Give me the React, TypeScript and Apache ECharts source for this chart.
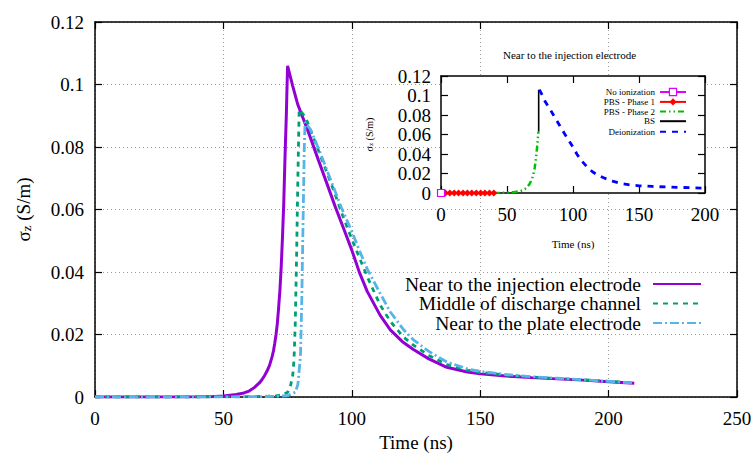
import React, { useEffect, useRef } from 'react';
import * as echarts from 'echarts';

// ---- Main chart data: [time (ns), sigma_z (S/m)]
const nearInjection: [number, number][] = [
  [0, 0], [10, 0], [20, 0], [30, 0], [40, 0.00005], [45, 0.0001], [50, 0.0003], [55, 0.0008], [58, 0.0013],
  [60, 0.0019], [62, 0.003], [64, 0.0045], [65, 0.0055], [66, 0.0068], [67, 0.0083], [68, 0.0102], [69, 0.013],
  [69.5, 0.0148], [70, 0.0172], [70.5, 0.02], [71, 0.0235], [71.5, 0.0285], [72, 0.034], [72.5, 0.0415],
  [73, 0.051], [73.5, 0.062], [74, 0.077], [74.5, 0.09], [74.8, 0.1], [75, 0.106],
  [77, 0.0995], [79, 0.0935], [83, 0.085], [87, 0.0758], [90, 0.069], [93.5, 0.061], [97, 0.0535], [100, 0.047],
  [103, 0.0398], [106, 0.0338], [111, 0.0262], [115, 0.0215], [120, 0.0175], [124, 0.0152], [130, 0.0122],
  [137, 0.0095], [145, 0.008], [150, 0.0074], [160, 0.0067], [170, 0.0062], [180, 0.0058], [190, 0.0054],
  [200, 0.0049], [210, 0.0044],
];

const middleChannel: [number, number][] = [
  [0, 0], [20, 0], [40, 0], [60, 0.0001], [70, 0.0003], [73, 0.0007], [75, 0.0015], [76, 0.003], [77, 0.007],
  [77.5, 0.012], [78, 0.024], [78.5, 0.045], [79, 0.07], [79.5, 0.092],
  [82, 0.0895], [86, 0.081], [90, 0.0725], [93, 0.066], [96, 0.059], [100, 0.0505], [103, 0.0445], [106, 0.0385],
  [111, 0.0295], [115, 0.0242], [120, 0.0193], [124, 0.0166], [130, 0.0133], [137, 0.0104], [145, 0.0086],
  [150, 0.0079], [160, 0.007], [170, 0.0064], [180, 0.0059], [190, 0.0055], [200, 0.005], [210, 0.0045],
];

const nearPlate: [number, number][] = [
  [0, 0], [20, 0], [40, 0], [60, 0.0001], [70, 0.0002], [75, 0.0004], [78, 0.0015], [79, 0.004], [80, 0.013],
  [80.5, 0.03], [81, 0.055], [81.5, 0.08], [81.8, 0.088],
  [84, 0.0855], [88, 0.0775], [92, 0.069], [96, 0.0605], [100, 0.053], [103, 0.0468], [106, 0.041], [111, 0.0332],
  [115, 0.0272], [120, 0.0217], [124, 0.0183], [130, 0.0146], [137, 0.0112], [145, 0.009], [150, 0.0082],
  [160, 0.0072], [170, 0.0065], [180, 0.006], [190, 0.0055], [200, 0.005], [210, 0.0045],
];

// ---- Inset data (near to the injection electrode, by phase)
const noIonization: [number, number][] = [[0, 0]];
const pbsPhase1: [number, number][] = [
  [0, 0], [3.3, 0], [6.7, 0], [10, 0], [13.3, 0], [16.7, 0], [20, 0], [23.3, 0], [26.7, 0], [30, 0], [33.3, 0],
  [36.7, 0], [40, 0],
];
const pbsPhase2: [number, number][] = [
  [40, 0], [45, 0.0001], [50, 0.0003], [55, 0.0008], [60, 0.0018], [63, 0.0035], [65, 0.0055], [67, 0.009],
  [69, 0.0145], [70, 0.019], [71, 0.026], [72, 0.036], [73, 0.05], [73.8, 0.063],
];
const bsPhase: [number, number][] = [[74, 0.063], [74, 0.106]];
const deionization: [number, number][] = [
  [74.5, 0.106], [77, 0.0995], [79, 0.0935], [83, 0.085], [87, 0.0758], [90, 0.069], [93.5, 0.061], [97, 0.0535],
  [100, 0.047], [103, 0.0398], [106, 0.0338], [111, 0.0262], [115, 0.0215], [120, 0.0175], [124, 0.0152],
  [130, 0.0122], [137, 0.0095], [145, 0.008], [150, 0.0074], [160, 0.0067], [170, 0.0062], [180, 0.0058],
  [190, 0.0054], [200, 0.0049],
];

const mainNames = ['Near to the injection electrode', 'Middle of discharge channel', 'Near to the plate electrode'];
const insetNames = ['No ionization', 'PBS - Phase 1', 'PBS - Phase 2', 'BS', 'Deionization'];

const FONT = 'Liberation Serif, Times New Roman, Times, DejaVu Serif, serif';

function App() {
  const ref = useRef<HTMLDivElement>(null);

  useEffect(() => {
    if (!ref.current) return;
    const chart = echarts.init(ref.current, undefined, { renderer: 'svg' });

    const frameLine = { show: true, onZero: false, lineStyle: { color: '#000', width: 1.5 } };
    const tickIn = { show: true, inside: true, length: 7, lineStyle: { color: '#000', width: 1.2 } };
    const grayDots = { show: true, lineStyle: { color: '#9a9a9a', width: 1, type: [1, 3] as number[] } };
    const lbl = (m: number) => ({ show: true, color: '#000', fontSize: 19, fontFamily: FONT, margin: m });

    const mainLegendRows = [274, 293.5, 313];
    const insetLegendRows = [87.5, 97.4, 107, 116.7, 127.2];
    const insetLegendItemStyle = [
      { color: '#fff', borderColor: '#e000ff', borderWidth: 1.2, opacity: 1 },
      { color: '#ff0000', borderWidth: 0, opacity: 1 },
      { opacity: 0 },
      { opacity: 0 },
      { opacity: 0 },
    ];

    const option: any = {
      animation: false,
      backgroundColor: '#fff',
      textStyle: { fontFamily: FONT },
      title: {
        text: 'Near to the injection electrode',
        left: 503,
        top: 49,
        padding: 0,
        textStyle: { fontSize: 11, fontWeight: 'normal', color: '#000', fontFamily: FONT },
      },
      legend: [
        ...mainNames.map((n, i) => ({
          data: [n],
          orient: 'vertical',
          align: 'right',
          right: 54,
          top: mainLegendRows[i],
          padding: 0,
          itemWidth: 48,
          itemHeight: 14,
          selectedMode: false,
          itemStyle: { opacity: 0 },
          textStyle: { fontSize: 19.5, color: '#000', fontFamily: FONT, padding: [0, 7, 0, 0] },
        })),
        ...insetNames.map((n, i) => ({
          data: [n],
          orient: 'vertical',
          align: 'right',
          right: 69,
          top: insetLegendRows[i],
          padding: 0,
          itemWidth: 26,
          itemHeight: 9,
          selectedMode: false,
          itemStyle: insetLegendItemStyle[i],
          textStyle: { fontSize: 9, color: '#000', fontFamily: FONT },
        })),
      ],
      grid: [
        { left: 95, top: 22, width: 642, height: 375, show: false, outerBoundsMode: 'none', containLabel: false },
        {
          left: 441, top: 76, width: 264, height: 117, show: true, backgroundColor: '#fff',
          borderWidth: 0, z: 3, outerBoundsMode: 'none', containLabel: false,
        },
      ],
      xAxis: [
        {
          type: 'value', gridIndex: 0, min: 0, max: 250, interval: 50, position: 'bottom',
          axisLine: frameLine, axisTick: tickIn, axisLabel: lbl(12), splitLine: grayDots,
          name: 'Time (ns)', nameLocation: 'middle', nameGap: 34,
          nameTextStyle: { fontSize: 19, color: '#000', fontFamily: FONT },
        },
        {
          type: 'value', gridIndex: 0, min: 0, max: 250, interval: 50, position: 'top',
          axisLine: frameLine, axisTick: tickIn, axisLabel: { show: false }, splitLine: { show: false },
        },
        {
          type: 'value', gridIndex: 1, min: 0, max: 200, interval: 50, position: 'bottom', z: 4,
          axisLine: frameLine, axisTick: tickIn, axisLabel: lbl(12), splitLine: { show: false },
          name: 'Time (ns)', nameLocation: 'middle', nameGap: 45,
          nameTextStyle: { fontSize: 11, color: '#000', fontFamily: FONT },
        },
        {
          type: 'value', gridIndex: 1, min: 0, max: 200, interval: 50, position: 'top', z: 4,
          axisLine: frameLine, axisTick: tickIn, axisLabel: { show: false }, splitLine: { show: false },
        },
      ],
      yAxis: [
        {
          type: 'value', gridIndex: 0, min: 0, max: 0.12, interval: 0.02, position: 'left',
          axisLine: frameLine, axisTick: tickIn, axisLabel: lbl(11), splitLine: grayDots,
          name: 'σ{s|z} (S/m)', nameLocation: 'middle', nameGap: 62, nameRotate: 90,
          nameTextStyle: {
            fontSize: 19, color: '#000', fontFamily: FONT,
            rich: { s: { fontSize: 13, color: '#000', fontFamily: FONT, verticalAlign: 'bottom', lineHeight: 13 } },
          },
        },
        {
          type: 'value', gridIndex: 0, min: 0, max: 0.12, interval: 0.02, position: 'right',
          axisLine: frameLine, axisTick: tickIn, axisLabel: { show: false }, splitLine: { show: false },
        },
        {
          type: 'value', gridIndex: 1, min: 0, max: 0.12, interval: 0.02, position: 'left', z: 4,
          axisLine: frameLine, axisTick: tickIn, axisLabel: lbl(10), splitLine: { show: false },
          name: 'σ{s|z} (S/m)', nameLocation: 'middle', nameGap: 67, nameRotate: 90,
          nameTextStyle: {
            fontSize: 10, color: '#000', fontFamily: FONT,
            rich: { s: { fontSize: 7, color: '#000', fontFamily: FONT, verticalAlign: 'bottom', lineHeight: 7 } },
          },
        },
        {
          type: 'value', gridIndex: 1, min: 0, max: 0.12, interval: 0.02, position: 'right', z: 4,
          axisLine: frameLine, axisTick: tickIn, axisLabel: { show: false }, splitLine: { show: false },
        },
      ],
      series: [
        {
          name: mainNames[0], type: 'line', xAxisIndex: 0, yAxisIndex: 0, data: nearInjection,
          symbol: 'none', color: '#9400D3', lineStyle: { color: '#9400D3', width: 3 }, z: 2,
        },
        {
          name: mainNames[1], type: 'line', xAxisIndex: 0, yAxisIndex: 0, data: middleChannel,
          symbol: 'none', color: '#009E73', lineStyle: { color: '#009E73', width: 2.8, type: [5, 5] }, z: 2,
        },
        {
          name: mainNames[2], type: 'line', xAxisIndex: 0, yAxisIndex: 0, data: nearPlate,
          symbol: 'none', color: '#56B4E9', lineStyle: { color: '#56B4E9', width: 2.8, type: [9, 3, 2, 3] }, z: 2,
        },
        {
          name: insetNames[1], type: 'line', xAxisIndex: 2, yAxisIndex: 2, data: pbsPhase1,
          symbol: 'diamond', symbolSize: 7, showSymbol: true, color: '#ff0000',
          itemStyle: { color: '#ff0000' }, lineStyle: { color: '#ff0000', width: 2 }, z: 6,
        },
        {
          name: insetNames[0], type: 'line', xAxisIndex: 2, yAxisIndex: 2, data: noIonization,
          symbol: 'rect', symbolSize: 7, showSymbol: true, color: '#e000ff',
          itemStyle: { color: '#fff', borderColor: '#e000ff', borderWidth: 1.2 },
          lineStyle: { color: '#e000ff', width: 2 }, z: 7,
        },
        {
          name: insetNames[2], type: 'line', xAxisIndex: 2, yAxisIndex: 2, data: pbsPhase2,
          symbol: 'none', color: '#00c000', lineStyle: { color: '#00c000', width: 2.5, type: [6, 3, 1.5, 3, 1.5, 3] }, z: 6,
        },
        {
          name: insetNames[3], type: 'line', xAxisIndex: 2, yAxisIndex: 2, data: bsPhase,
          symbol: 'none', color: '#000', lineStyle: { color: '#000', width: 1.6 }, z: 6,
        },
        {
          name: insetNames[4], type: 'line', xAxisIndex: 2, yAxisIndex: 2, data: deionization,
          symbol: 'none', color: '#0000ff', lineStyle: { color: '#0000ff', width: 2.8, type: [6, 6] }, z: 6,
        },
      ],
    };

    chart.setOption(option);
    return () => chart.dispose();
  }, []);

  return (
    <div
      ref={ref}
      style={{ position: 'absolute', left: 0, top: 0, width: 756, height: 457, background: '#fff' }}
    />
  );
}

export default App;
